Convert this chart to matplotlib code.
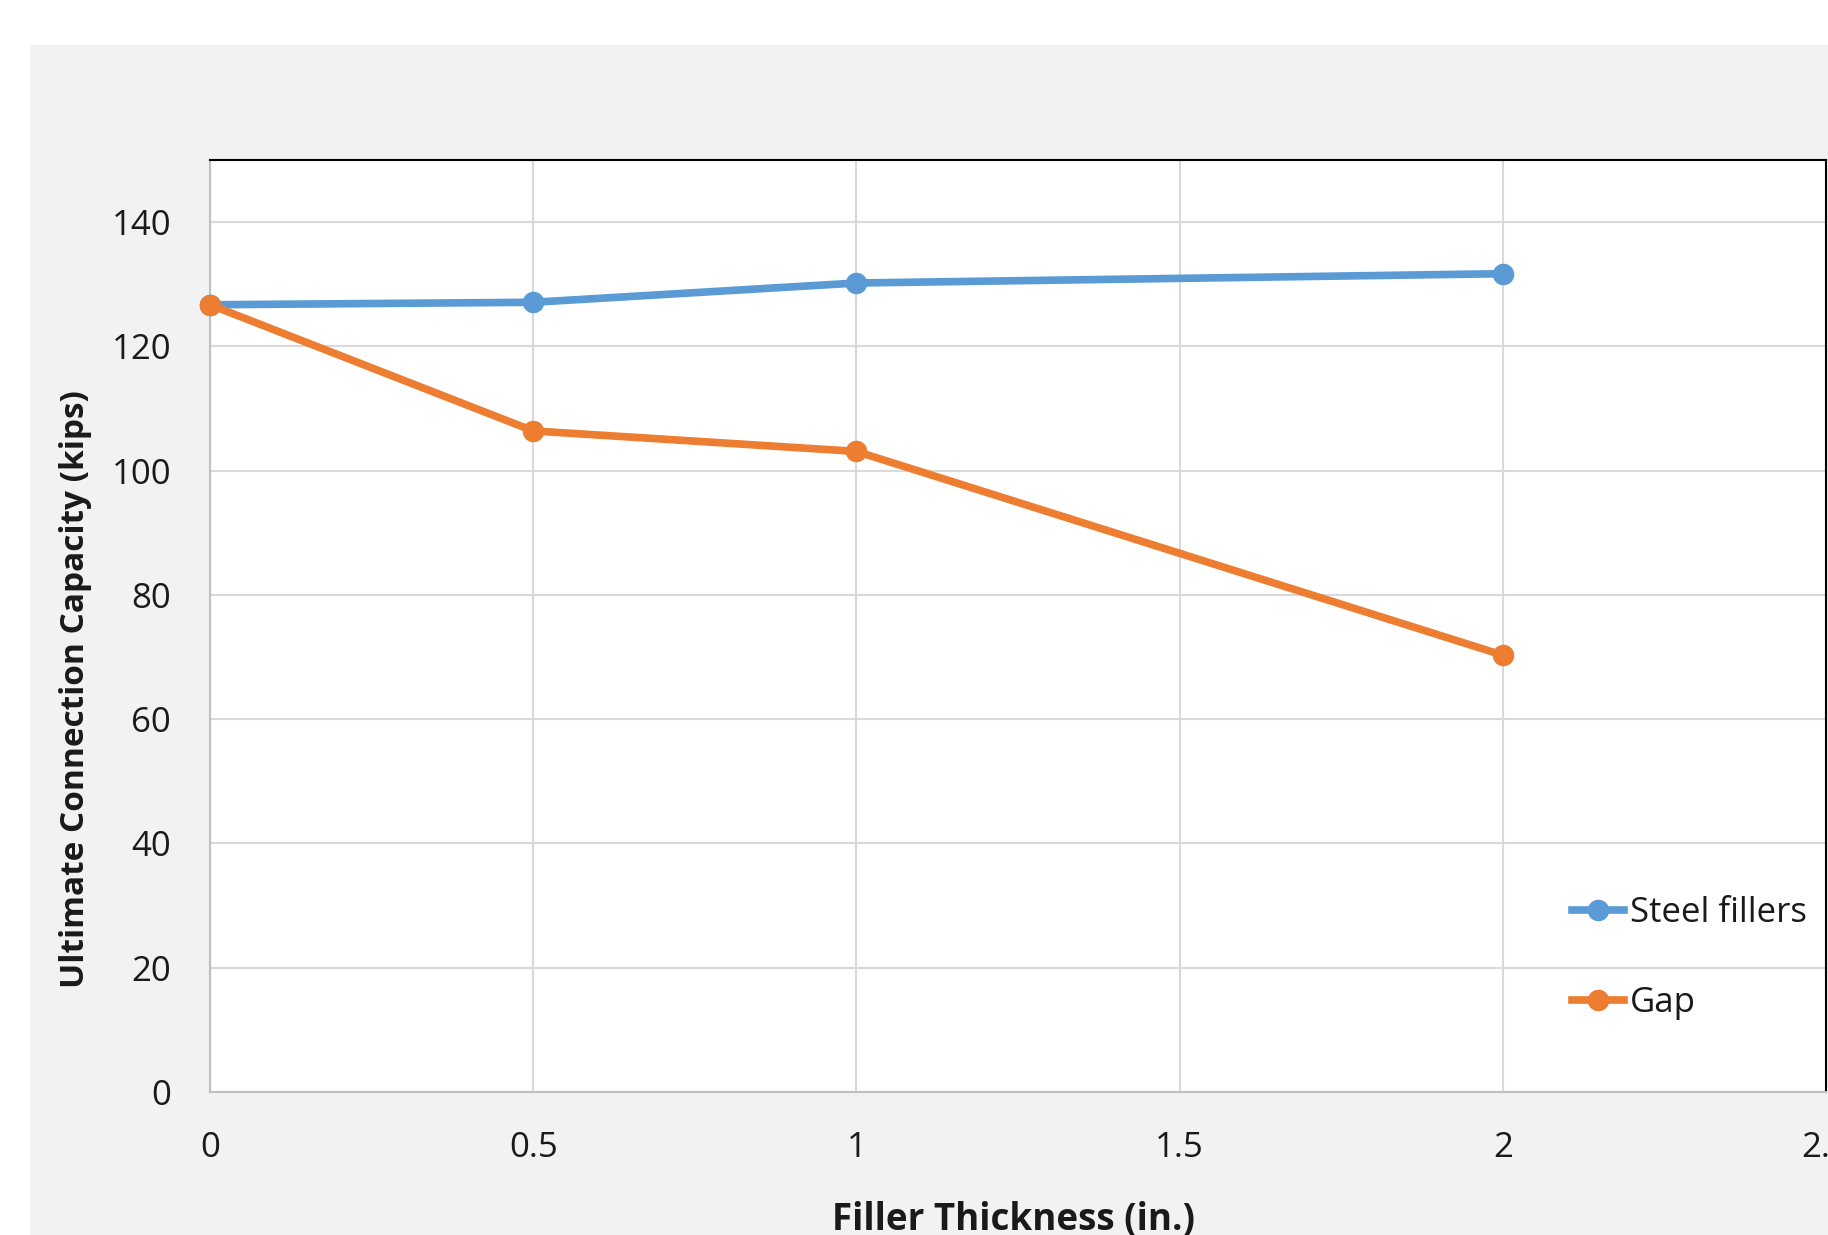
import matplotlib.pyplot as plt
from matplotlib.patches import Rectangle

# data
thickness = [0, 0.5, 1, 2]
steel_fillers = [126.7, 127.1, 130.2, 131.7]
gap = [126.7, 106.4, 103.1, 70.3]
xticks = [0, 0.5, 1, 1.5, 2, 2.5]
xticklabels = ['0', '0.5', '1', '1.5', '2', '2.5']
yticks = [0, 20, 40, 60, 80, 100, 120, 140]

plt.rcParams['font.family'] = ['Open Sans', 'DejaVu Sans']

W, H = 1828, 1235
fig = plt.figure(figsize=(W / 100, H / 100), dpi=100)
fig.patch.set_facecolor('white')
# grey chart area (image is cropped from a larger chart)
fig.patches.append(Rectangle((30 / W, 0), 1 - 30 / W, 1 - 45 / H,
                             transform=fig.transFigure, facecolor='#F2F2F2',
                             edgecolor='none', zorder=-10))

ax = fig.add_axes([210 / W, 1 - 1092 / H, 1616 / W, (1092 - 160) / H])
ax.set_facecolor('white')

blue = '#5B9BD5'
orange = '#ED7D31'
ax.plot(thickness, steel_fillers, color=blue, lw=5.5, marker='o', ms=14.5,
        label='Steel fillers', clip_on=False, zorder=3)
ax.plot(thickness, gap, color=orange, lw=5.5, marker='o', ms=14.5,
        label='Gap', clip_on=False, zorder=4)

ax.set_xlim(0, 2.5)
ax.set_ylim(0, 150)
ax.set_xticks(xticks)
ax.set_xticklabels(xticklabels)
ax.set_yticks(yticks)
ax.tick_params(length=0, labelsize=25, colors='#1a1a1a')
ax.tick_params(axis='x', pad=28)
ax.tick_params(axis='y', pad=28)
ax.grid(True, color='#D9D9D9', lw=1.5)
ax.set_axisbelow(True)

for s in ['left', 'bottom']:
    ax.spines[s].set_color('#BFBFBF')
    ax.spines[s].set_linewidth(1.5)
for s in ['top', 'right']:
    ax.spines[s].set_color('black')
    ax.spines[s].set_linewidth(1.5)

fig.text(76 / W, 1 - 689 / H, 'Ultimate Connection Capacity (kips)',
         rotation=90, ha='center', va='center', fontsize=24,
         fontweight='bold', color='#1a1a1a')
fig.text(1014 / W, 1 - 1220 / H, 'Filler Thickness (in.)', ha='center',
         va='center', fontsize=26.5, fontweight='bold', color='#1a1a1a')

ax.legend(loc='upper left', bbox_to_anchor=(1572 / W, 1 - 896 / H),
          bbox_transform=fig.transFigure, frameon=False, fontsize=25,
          handlelength=1.5, handletextpad=0.18, labelspacing=1.62,
          borderpad=0, borderaxespad=0, labelcolor='#1a1a1a')

fig.savefig('out.png', dpi=100)
